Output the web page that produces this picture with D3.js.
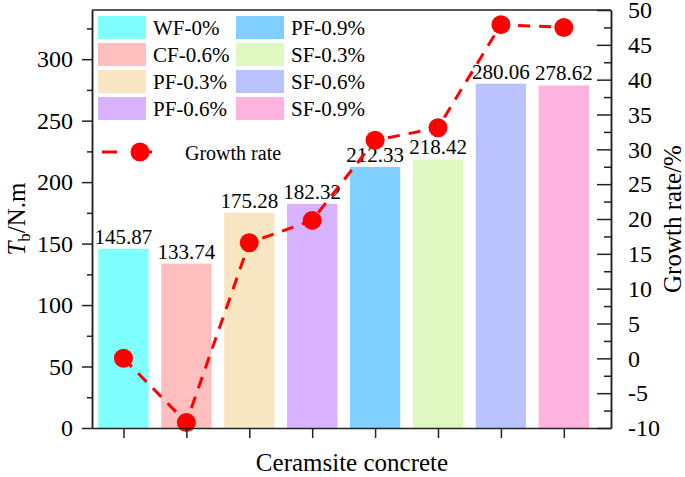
<!DOCTYPE html>
<html>
<head>
<meta charset="utf-8">
<script src="https://cdn.jsdelivr.net/npm/d3@7"></script>
<style>
  body { margin: 0; background: #fff; }
  text { font-family: "Liberation Serif", "Times New Roman", serif; fill: #000; }
</style>
</head>
<body>
<svg id="chart" width="685" height="477"></svg>
<script>
// Chart values
const categories = ["WF-0%", "CF-0.6%", "PF-0.3%", "PF-0.6%", "PF-0.9%", "SF-0.3%", "SF-0.6%", "SF-0.9%"];
const torque = [145.87, 133.74, 175.28, 182.32, 212.33, 218.42, 280.06, 278.62];
const growthRate = [0, -9.2, 16.6, 19.8, 31.3, 33.1, 47.9, 47.5];
const barColors = ["#80FFFF", "#FFBFBF", "#F8E6C3", "#D9B3FF", "#80CFFF", "#DFF7C0", "#BBC3FF", "#FFB3DE"];

// Tick labels
const leftTicks = [0, 50, 100, 150, 200, 250, 300];
const leftMinor = [25, 75, 125, 175, 225, 275, 325];
const rightTicks = [-10, -5, 0, 5, 10, 15, 20, 25, 30, 35, 40, 45, 50];
const rightMinor = [-7.5, -2.5, 2.5, 7.5, 12.5, 17.5, 22.5, 27.5, 32.5, 37.5, 42.5, 47.5];

// Plot box
const plotLeft = 92, plotRight = 611, plotTop = 10, plotBottom = 428;

const svg = d3.select("#chart");

const x = d3.scaleLinear().domain([0.5, 8.75]).range([plotLeft, plotRight]);
const yLeft = d3.scaleLinear().domain([0, 340]).range([plotBottom, plotTop]);
const yRight = d3.scaleLinear().domain([-10, 50]).range([plotBottom, plotTop]);
const barWidth = x(1.8) - x(1);

// Bars
svg.append("g")
    .selectAll("rect")
    .data(torque)
    .join("rect")
    .attr("x", (d, i) => x(i + 1) - barWidth / 2)
    .attr("y", d => yLeft(d))
    .attr("width", barWidth)
    .attr("height", d => yLeft(0) - yLeft(d))
    .attr("fill", (d, i) => barColors[i]);

// Value labels above bars
svg.append("g")
    .attr("font-size", 21)
    .attr("text-anchor", "middle")
    .selectAll("text")
    .data(torque)
    .join("text")
    .attr("x", (d, i) => x(i + 1))
    .attr("y", d => yLeft(d) - 5)
    .text(d => d.toFixed(2));

// Growth rate line with markers
const line = d3.line()
    .x((d, i) => x(i + 1))
    .y(d => yRight(d));

svg.append("path")
    .datum(growthRate)
    .attr("d", line)
    .attr("fill", "none")
    .attr("stroke", "#FF0000")
    .attr("stroke-width", 3)
    .attr("stroke-dasharray", "12,9");

svg.append("g")
    .selectAll("circle")
    .data(growthRate)
    .join("circle")
    .attr("cx", (d, i) => x(i + 1))
    .attr("cy", d => yRight(d))
    .attr("r", 9.5)
    .attr("fill", "#FF0000");

// Axes
function styleAxis(g) {
    g.selectAll("path, line").attr("stroke", "#222").attr("stroke-width", 1.5);
    g.selectAll("text").attr("font-size", 24).attr("font-family", "Liberation Serif");
}

svg.append("g")
    .attr("transform", `translate(${plotLeft},0)`)
    .call(d3.axisLeft(yLeft).tickValues(leftMinor).tickSize(5).tickSizeOuter(0).tickFormat(""))
    .call(styleAxis);
svg.append("g")
    .attr("transform", `translate(${plotLeft},0)`)
    .call(d3.axisLeft(yLeft).tickValues(leftTicks).tickSize(10).tickSizeOuter(0).tickPadding(9))
    .call(styleAxis);

svg.append("g")
    .attr("transform", `translate(${plotRight},0)`)
    .call(d3.axisRight(yRight).tickValues(rightMinor).tickSize(-7).tickSizeOuter(0).tickFormat(""))
    .call(styleAxis);
svg.append("g")
    .attr("transform", `translate(${plotRight},0)`)
    .call(d3.axisRight(yRight).tickValues(rightTicks).tickSize(-14).tickSizeOuter(0).tickPadding(17)
        .tickFormat(d => String(d)))
    .call(styleAxis);

svg.append("g")
    .attr("transform", `translate(0,${plotBottom})`)
    .call(d3.axisBottom(x).tickValues(d3.range(1, categories.length + 1)).tickSize(10).tickSizeOuter(0).tickFormat(""))
    .call(styleAxis);

// Top frame line
svg.append("line")
    .attr("x1", plotLeft).attr("x2", plotRight)
    .attr("y1", plotTop).attr("y2", plotTop)
    .attr("stroke", "#222")
    .attr("stroke-width", 1.5);

// Axis titles
svg.append("text")
    .attr("transform", `translate(25,${(plotTop + plotBottom) / 2}) rotate(-90)`)
    .attr("text-anchor", "middle")
    .attr("font-size", 25)
    .call(t => t.append("tspan").attr("font-style", "italic").text("T"))
    .call(t => t.append("tspan").attr("font-size", 17).attr("dy", 5).text("b"))
    .call(t => t.append("tspan").attr("dy", -5).text("/N.m"));

svg.append("text")
    .attr("transform", `translate(681,${(plotTop + plotBottom) / 2}) rotate(-90)`)
    .attr("text-anchor", "middle")
    .attr("font-size", 25)
    .text("Growth rate/%");

svg.append("text")
    .attr("x", 352)
    .attr("y", 471)
    .attr("text-anchor", "middle")
    .attr("font-size", 25)
    .text("Ceramsite concrete");

// Legend: two columns of four swatches
const legend = svg.append("g").attr("font-size", 21);
const legendItems = legend.selectAll("g")
    .data(categories)
    .join("g")
    .attr("transform", (d, i) => `translate(${i < 4 ? 98 : 236},${16 + (i % 4) * 27})`);
legendItems.append("rect")
    .attr("width", 48)
    .attr("height", 23)
    .attr("fill", (d, i) => barColors[i]);
legendItems.append("text")
    .attr("x", 55)
    .attr("y", 19)
    .text(d => d);

// Growth rate legend entry
legend.append("line")
    .attr("x1", 102).attr("x2", 166)
    .attr("y1", 152).attr("y2", 152)
    .attr("stroke", "#FF0000")
    .attr("stroke-width", 3)
    .attr("stroke-dasharray", "15,20");
legend.append("circle")
    .attr("cx", 140).attr("cy", 152).attr("r", 9.5)
    .attr("fill", "#FF0000");
legend.append("text")
    .attr("x", 185)
    .attr("y", 160)
    .attr("font-size", 20)
    .text("Growth rate");
</script>
</body>
</html>
